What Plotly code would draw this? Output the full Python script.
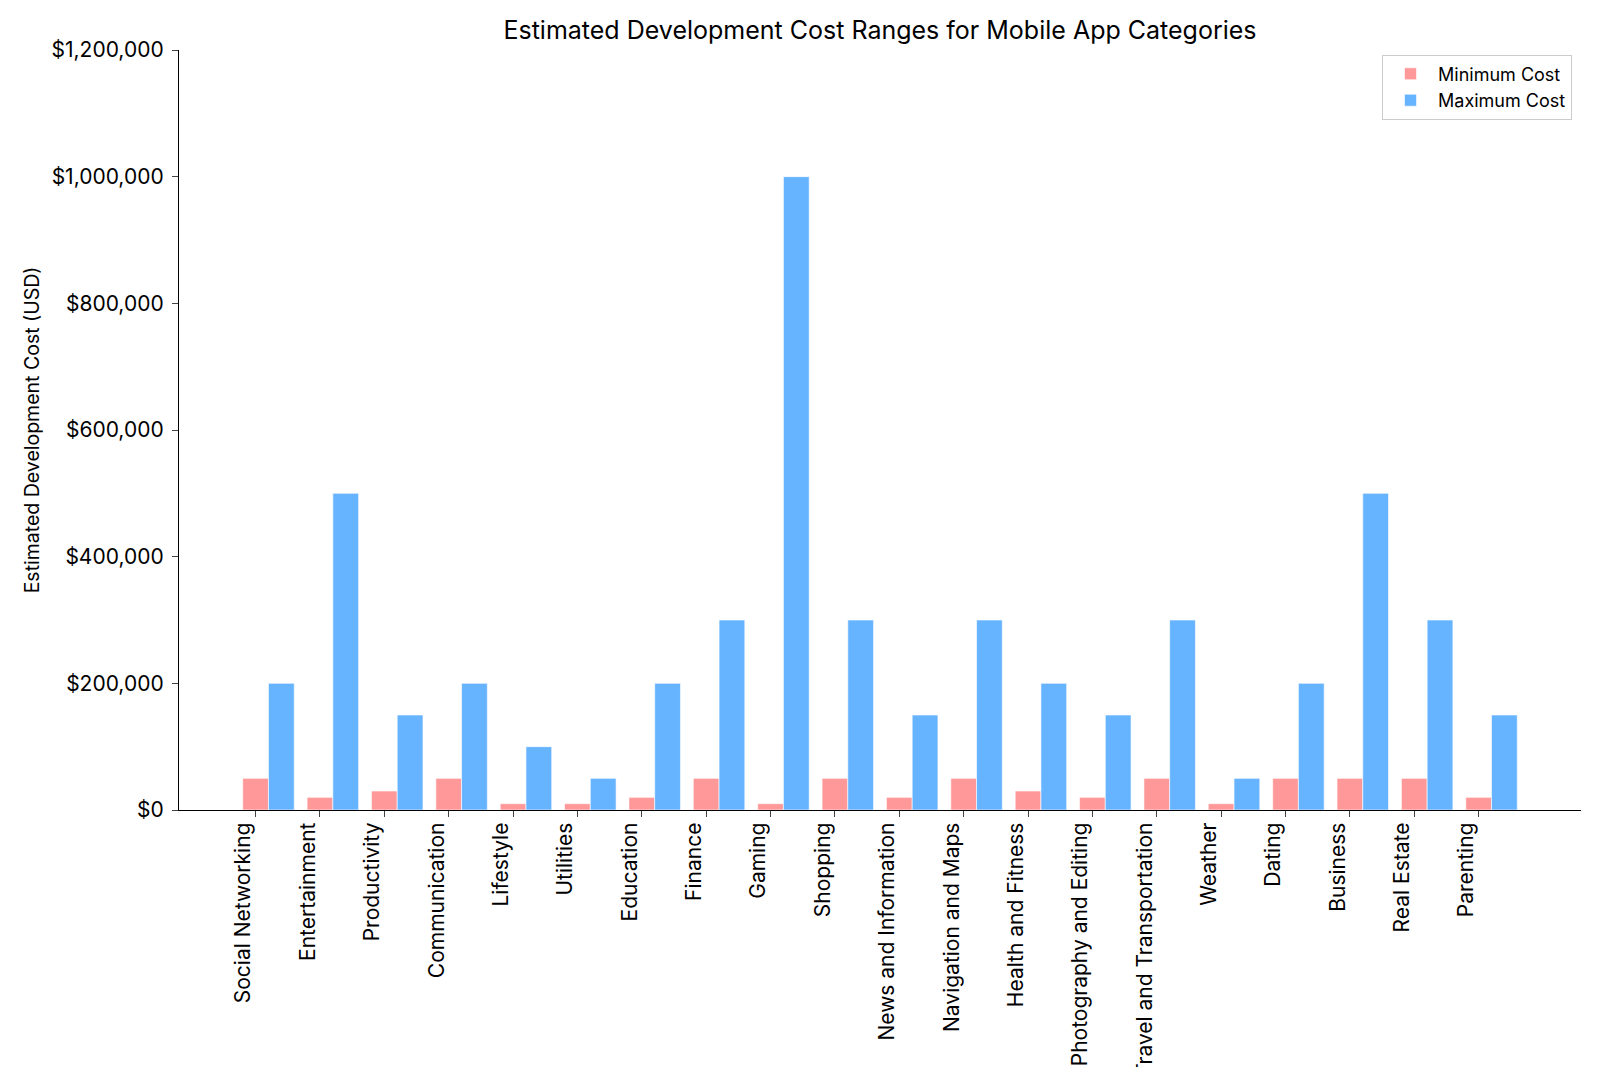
import plotly.graph_objects as go

categories = ["Social Networking", "Entertainment", "Productivity", "Communication",
              "Lifestyle", "Utilities", "Education", "Finance", "Gaming", "Shopping",
              "News and Information", "Navigation and Maps", "Health and Fitness",
              "Photography and Editing", "Travel and Transportation", "Weather",
              "Dating", "Business", "Real Estate", "Parenting"]
min_cost = [50000, 20000, 30000, 50000, 10000, 10000, 20000, 50000, 10000, 50000,
            20000, 50000, 30000, 20000, 50000, 10000, 50000, 50000, 50000, 20000]
max_cost = [200000, 500000, 150000, 200000, 100000, 50000, 200000, 300000, 1000000, 300000,
            150000, 300000, 200000, 150000, 300000, 50000, 200000, 500000, 300000, 150000]
y_ticks = [0, 200000, 400000, 600000, 800000, 1000000, 1200000]

x = list(range(len(categories)))
w = 0.4
font = "Inter"

fig = go.Figure()
fig.add_trace(go.Bar(x=x, y=min_cost, width=w, offset=-w / 2, name="Minimum Cost",
                     marker=dict(color="#ff9999", line=dict(color="rgba(255,255,255,0.6)", width=1))))
fig.add_trace(go.Bar(x=x, y=max_cost, width=w, offset=w / 2, name="Maximum Cost",
                     marker=dict(color="#66b3ff", line=dict(color="rgba(255,255,255,0.6)", width=1))))

# page body adds an 8px margin, so the figure is a bit smaller than the window
fig.update_layout(
    width=1592, height=1059,
    barmode="overlay",
    plot_bgcolor="white", paper_bgcolor="white",
    font=dict(family=font, color="black"),
    margin=dict(l=171, r=19, t=42, b=257, autoexpand=False),
    title=dict(text="Estimated Development Cost Ranges for Mobile App Categories",
               x=0.5, xref="paper", y=1 - 22 / 1059, yref="container",
               xanchor="center", yanchor="middle", font=dict(size=25)),
    legend=dict(x=0.9936, y=0.994, xanchor="right", yanchor="top",
                bordercolor="#cccccc", borderwidth=1, bgcolor="white",
                font=dict(size=18), tracegroupgap=0, itemwidth=45),
    showlegend=True,
)
fig.update_xaxes(
    range=[-1.19, 20.59], tickmode="array", tickvals=x, ticktext=categories,
    tickangle=-90, tickfont=dict(size=21), ticks="outside", ticklen=6,
    tickcolor="#444444", showline=True, linecolor="black", linewidth=1.3,
    showgrid=False, zeroline=False, automargin=False,
    ticklabelshift=-12, ticklabelstandoff=-3,
)
fig.update_yaxes(
    range=[0, 1200000], tickmode="array", tickvals=y_ticks, tickformat="$,.0f",
    tickfont=dict(size=21), ticks="outside", ticklen=6, tickcolor="#444444",
    showline=True, linecolor="black", linewidth=1.3, showgrid=False, zeroline=False,
    automargin=False, ticklabelstandoff=4,
    title=dict(text="Estimated Development Cost (USD)", font=dict(size=19.5), standoff=6),
)

fig.write_html("out.html")
